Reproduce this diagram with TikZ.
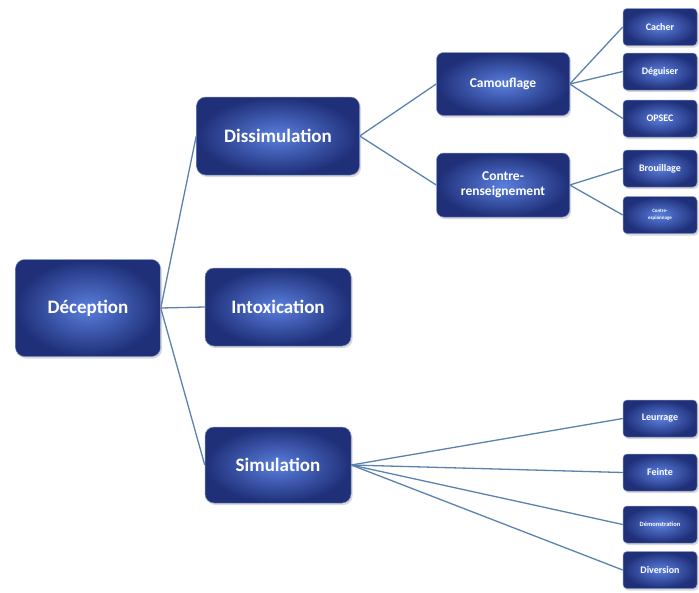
\documentclass[tikz,border=0pt]{standalone}
\usepackage{fontspec}
\setmainfont{Carlito}
\usetikzlibrary{shadows,backgrounds}
\definecolor{boxout}{HTML}{1F2F78}
\definecolor{boxin}{HTML}{5A7FDE}
\definecolor{boxedge}{HTML}{7F93C8}
\definecolor{lnk}{HTML}{5B82AE}
\tikzset{
  box/.style={rounded corners=9pt, inner color=boxin, outer color=boxout,
    draw=boxedge, line width=0.5pt, text=white, font=\bfseries, align=center,
    inner sep=0pt,
    drop shadow={opacity=0.3, shadow xshift=1.5pt, shadow yshift=-2pt}},
  bigbox/.style={box, font=\bfseries\fontsize{19}{22}\selectfont},
  midbox/.style={box, rounded corners=7pt, font=\bfseries\fontsize{13.5}{15}\selectfont},
  smallbox/.style={box, rounded corners=4pt, minimum width=74pt, minimum height=37pt,
    font=\bfseries\fontsize{10}{11}\selectfont},
  link/.style={draw=lnk, line width=1.3pt}
}
\begin{document}
\begin{tikzpicture}[x=1pt,y=-1pt]
\useasboundingbox (0,0) rectangle (699,592);
\node[bigbox, minimum width=145pt, minimum height=97pt] (dec) at (88,308) {Déception};
\node[bigbox, minimum width=163pt, minimum height=78pt] (dis) at (278,136) {Dissimulation};
\node[bigbox, minimum width=146pt, minimum height=78pt] (int) at (278,307) {Intoxication};
\node[bigbox, minimum width=146pt, minimum height=76pt] (sim) at (278,465) {Simulation};
\node[midbox, minimum width=133pt, minimum height=63pt] (cam) at (503,84) {Camouflage};
\node[midbox, minimum width=133pt, minimum height=64pt] (con) at (503,185) {Contre-\\renseignement};
\node[smallbox] (cac) at (660,27) {Cacher};
\node[smallbox] (deg) at (660,71.5) {Déguiser};
\node[smallbox] (ops) at (660,118.5) {OPSEC};
\node[smallbox] (bro) at (660,168.5) {Brouillage};
\node[smallbox, font=\bfseries\fontsize{5}{7}\selectfont] (esp) at (660,215) {Contre-\\espionnage};
\node[smallbox] (leu) at (660,418.5) {Leurrage};
\node[smallbox] (fei) at (660,472.5) {Feinte};
\node[smallbox, font=\bfseries\fontsize{6.5}{7}\selectfont] (dem) at (660,524.5) {Démonstration};
\node[smallbox] (div) at (660,570) {Diversion};
\begin{scope}[on background layer]
\draw[link] (dec.east) -- (dis.west);
\draw[link] (dec.east) -- (int.west);
\draw[link] (dec.east) -- (sim.west);
\draw[link] (dis.east) -- (cam.west);
\draw[link] (dis.east) -- (con.west);
\draw[link] (cam.east) -- (cac.west);
\draw[link] (cam.east) -- (deg.west);
\draw[link] (cam.east) -- (ops.west);
\draw[link] (con.east) -- (bro.west);
\draw[link] (con.east) -- (esp.west);
\draw[link] (sim.east) -- (leu.west);
\draw[link] (sim.east) -- (fei.west);
\draw[link] (sim.east) -- (dem.west);
\draw[link] (sim.east) -- (div.west);
\end{scope}
\end{tikzpicture}
\end{document}
